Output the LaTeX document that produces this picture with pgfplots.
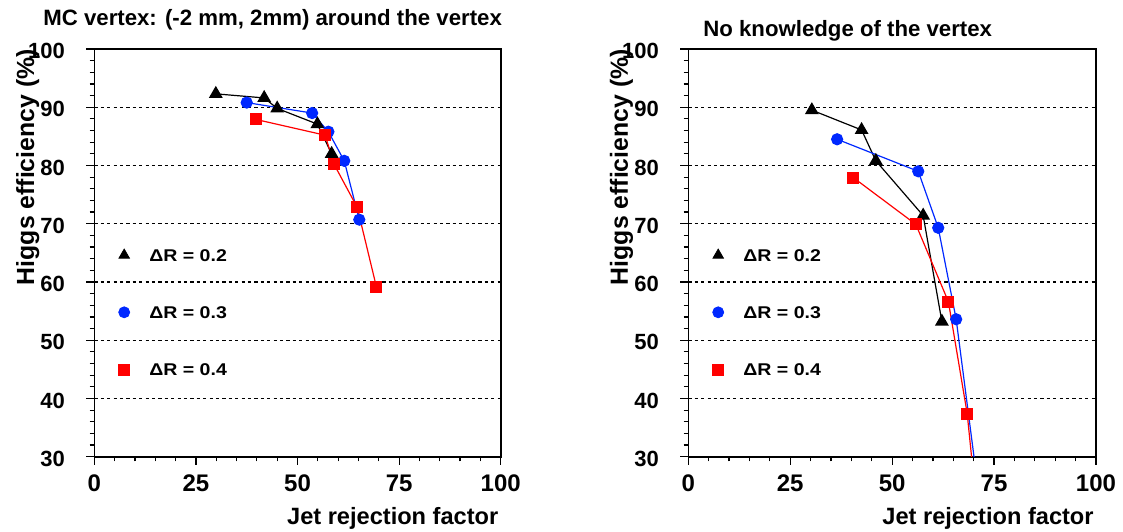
\documentclass[border=0pt]{standalone}
\usepackage{pgfplots}
\pgfplotsset{compat=1.18}
\usepackage{fontspec}
\setmainfont{Liberation Sans}
\newfontfamily\legfont[FakeStretch=1.15]{Liberation Sans}

\definecolor{ptblue}{RGB}{0,40,255}
\definecolor{ptred}{RGB}{255,0,0}

% efficiency vs. jet rejection, one table per Delta R
\pgfplotstableread{
x y
29.9 92.3
41.8 91.6
45.0 89.8
54.9 87.1
58.4 82.0
}\mcA
\pgfplotstableread{
x y
37.5 90.8
53.6 89.0
57.6 85.8
61.5 80.8
65.2 70.7
}\mcB
\pgfplotstableread{
x y
39.8 87.9
56.8 85.2
59.0 80.2
64.7 72.8
69.4 59.2
}\mcC
\pgfplotstableread{
x y
30.3 89.5
42.5 86.1
46.0 80.8
57.6 71.4
62.2 53.2
}\nkA
\pgfplotstableread{
x y
36.5 84.5
56.4 79.0
61.3 69.3
65.7 53.6
71.0 25.0
}\nkB
\pgfplotstableread{
x y
40.5 77.9
55.8 69.9
63.8 56.6
68.4 37.4
70.2 25.0
}\nkC

\pgfplotsset{
  effplot/.style={
    scale only axis, width=203.2pt, height=203.85pt, anchor=south west,
    xmin=0, xmax=100, ymin=30, ymax=100,
    xtick={0,25,50,75,100}, ytick={30,40,...,100},
    minor x tick num=4, minor y tick num=4,
    tick pos=left, tick align=outside,
    major tick length=4pt, minor tick length=2.3pt,
    axis line style={line width=0.8pt},
    tick style={black, line width=0.6pt},
    ymajorgrids,
    major grid style={black, line width=0.55pt, dash pattern=on 1.6pt off 1.6pt},
    /pgf/number format/assume math mode=true,
    ticklabel style={inner sep=0pt},
    xticklabel style={anchor=north, yshift=-5pt,
      font=\fontsize{12}{14}\selectfont\bfseries},
    yticklabel style={anchor=east, xshift=-10.5pt, yshift=-1pt,
      font=\fontsize{11}{13}\selectfont\bfseries},
    xlabel={Jet rejection factor},
    xlabel style={at={(axis description cs:1,0)}, anchor=base east,
      yshift=-33.8pt, xshift=-1pt, inner sep=0pt,
      font=\fontsize{11.8}{14}\selectfont\bfseries},
    ylabel={Higgs efficiency (\%)},
    ylabel style={at={(axis description cs:-0.148,1)}, anchor=base east,
      inner sep=0pt, font=\fontsize{12.4}{14}\selectfont\bfseries},
    title style={at={(axis description cs:0,1)}, anchor=base west,
      inner sep=0pt, font=\fontsize{11.1}{13}\selectfont\bfseries},
    legend image code/.code={
      \draw[mark repeat=2, mark phase=2, #1]
        plot coordinates {(0cm,0pt) (0.3cm,0pt) (0.6cm,0pt)};},
    legend cell align=left,
    legend style={draw=none, fill=none, inner sep=0pt, outer sep=0pt,
      at={(axis description cs:0,1)}, anchor=north west,
      xshift=12.2pt, yshift=-100pt,
      row sep=22.5pt, column sep=9.8pt,
      nodes={inner sep=0pt, text height=6.1pt, text depth=0pt},
      font=\legfont\bfseries\fontsize{8.5}{10}\selectfont},
    clip mode=global,
  },
  ltri/.style={black, line width=0.6pt, mark=triangle*, mark size=3.4pt},
  lcirc/.style={ptblue, line width=0.6pt, mark=*, mark size=2.75pt},
  lsq/.style={ptred, line width=0.6pt, mark=square*, mark size=2.7pt},
}

\begin{document}
\begin{tikzpicture}
\useasboundingbox (0,0) rectangle (561.5pt,265.5pt);

% vertex constrained to (-2 mm, 2 mm)
\begin{axis}[effplot, at={(47.15pt,37.15pt)},
  title={MC vertex: (-2 mm, 2mm) around the vertex},
  title style={xshift=-25.65pt, yshift=5.75pt}]
\addplot[ltri, forget plot] table {\mcA};
\addplot[lcirc, forget plot] table {\mcB};
\addplot[lsq, forget plot] table {\mcC};
\addlegendimage{only marks, black, mark=triangle*, mark size=3pt}
\addlegendentry{ΔR = 0.2}
\addlegendimage{only marks, ptblue, mark=*, mark size=2.75pt}
\addlegendentry{ΔR = 0.3}
\addlegendimage{only marks, ptred, mark=square*, mark size=2.7pt}
\addlegendentry{ΔR = 0.4}
\end{axis}

% vertex unknown
\begin{axis}[effplot, at={(344.15pt,37.15pt)}, width=203.85pt,
  title={No knowledge of the vertex},
  title style={xshift=7.35pt, yshift=0.35pt}]
\addplot[ltri, forget plot] table {\nkA};
\addplot[lcirc, forget plot] table {\nkB};
\addplot[lsq, forget plot] table {\nkC};
\addlegendimage{only marks, black, mark=triangle*, mark size=3pt}
\addlegendentry{ΔR = 0.2}
\addlegendimage{only marks, ptblue, mark=*, mark size=2.75pt}
\addlegendentry{ΔR = 0.3}
\addlegendimage{only marks, ptred, mark=square*, mark size=2.7pt}
\addlegendentry{ΔR = 0.4}
\end{axis}
\end{tikzpicture}
\end{document}
